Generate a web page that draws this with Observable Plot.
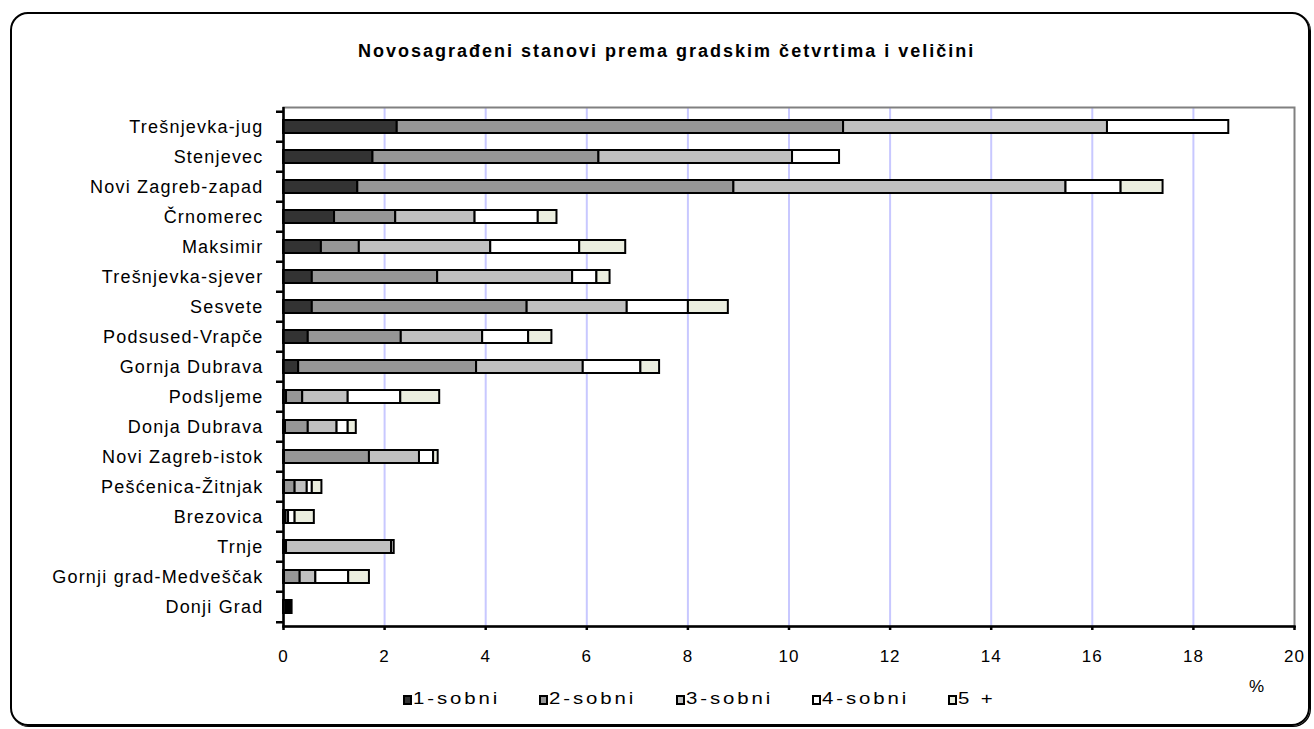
<!DOCTYPE html>
<html>
<head>
<meta charset="utf-8">
<script src="https://cdn.jsdelivr.net/npm/d3@7"></script>
<script src="https://cdn.jsdelivr.net/npm/@observablehq/plot@0.6"></script>
<style>
  html, body { margin: 0; padding: 0; background: #fff; }
  #wrap { position: relative; width: 1314px; height: 729px; overflow: hidden; font-family: "Liberation Sans", Arial, sans-serif; color: #000; }
  #frame { position: absolute; left: 10px; top: 12px; width: 1296px; height: 710px; border: 2px solid #000; border-radius: 18px; box-shadow: 1px 1px 0 #000; pointer-events: none; z-index: 2; }
  #title { position: absolute; left: 358px; top: 42px; font-size: 18px; line-height: 18px; font-weight: bold; letter-spacing: 2px; white-space: nowrap; z-index: 3; }
  #unit { position: absolute; left: 1249px; top: 678px; font-size: 17px; line-height: 17px; z-index: 3; }
  .leg { position: absolute; top: 690px; font-size: 17px; line-height: 17px; white-space: nowrap; z-index: 3; }
  .leg .txt { display: inline-block; transform: scaleX(1.2); transform-origin: 0 50%; letter-spacing: 2.4px; }
  .sw { display: inline-block; width: 9px; height: 10px; box-sizing: border-box; border: 2px solid #000; margin-right: 1px; vertical-align: -1px; }
  #chart svg g[aria-label="y-axis tick label"] text { letter-spacing: 1.2px; }
  #chart svg g[aria-label="x-axis tick label"] text { letter-spacing: 1px; }
  #chart { position: absolute; left: 0; top: 0; z-index: 1; }
</style>
</head>
<body>
<div id="wrap">
  <div id="chart"></div>
  <div id="frame"></div>
  <div id="title">Novosagrađeni stanovi prema gradskim četvrtima i veličini</div>
  <div id="unit">%</div>
  <div id="legend"></div>
</div>
<script>
// ---- data ----
const districts = ["Trešnjevka-jug","Stenjevec","Novi Zagreb-zapad","Črnomerec","Maksimir","Trešnjevka-sjever","Sesvete","Podsused-Vrapče","Gornja Dubrava","Podsljeme","Donja Dubrava","Novi Zagreb-istok","Pešćenica-Žitnjak","Brezovica","Trnje","Gornji grad-Medveščak","Donji Grad"];
const sizes = ["1-sobni","2-sobni","3-sobni","4-sobni","5 +"];
const colors = ["#333333","#969696","#c0c0c0","#ffffff","#ebeedf"];
const sobni1 = [2.25,1.77,1.47,1.01,0.75,0.57,0.57,0.49,0.30,0.06,0.04,0.02,0.02,0.02,0.02,0.02,0.06];
const sobni2 = [8.83,4.47,7.44,1.21,0.75,2.48,4.25,1.84,3.52,0.32,0.45,1.68,0.21,0.03,0.04,0.31,0.04];
const sobni3 = [5.22,3.83,6.57,1.57,2.60,2.67,1.98,1.61,2.11,0.90,0.57,0.99,0.24,0.05,2.08,0.31,0.03];
const sobni4 = [2.40,0.93,1.09,1.25,1.76,0.48,1.21,0.91,1.14,1.04,0.22,0.28,0.10,0.13,0.05,0.65,0.02];
const sobni5 = [0,0,0.83,0.37,0.91,0.26,0.79,0.46,0.37,0.77,0.16,0.09,0.19,0.38,0,0.41,0.02];
const xTicks = [0,2,4,6,8,10,12,14,16,18,20];
const gridTicks = [2,4,6,8,10,12,14,16,18];

const series = [sobni1, sobni2, sobni3, sobni4, sobni5];
const rows = [];
districts.forEach((d, i) => {
  sizes.forEach((s, j) => {
    const v = series[j][i];
    if (v > 0) rows.push({district: d, size: s, value: v});
  });
});

const W = 1314, H = 729, mt = 107, mb = 103, ml = 283, mr = 20;
const step = (H - mt - mb) / districts.length;

const chart = Plot.plot({
  width: W, height: H,
  marginTop: mt, marginBottom: mb, marginLeft: ml, marginRight: mr,
  style: {fontFamily: "'Liberation Sans', Arial, sans-serif", fontSize: "17px", color: "#000", background: "transparent"},
  x: {domain: [0, 20]},
  y: {domain: districts, paddingInner: 0.57, paddingOuter: 0.285},
  color: {domain: sizes, range: colors},
  marks: [
    Plot.gridX(gridTicks, {stroke: "#c8c8ff", strokeOpacity: 1, strokeWidth: 2}),
    Plot.frame({stroke: "#808080", strokeWidth: 2}),
    Plot.barX(rows, {x: "value", y: "district", fill: "size", stroke: "#000", strokeWidth: 2}),
    Plot.ruleX([0], {stroke: "#000", strokeWidth: 2.5}),
    Plot.frame({anchor: "bottom", stroke: "#000", strokeWidth: 2.5}),
    Plot.axisX(xTicks, {tickSize: 4, tickPadding: 19, strokeWidth: 2.5, label: null, fontSize: 17}),
    Plot.axisY({tickSize: 0, tickPadding: 20, label: null, fontSize: 18}),
    Plot.ruleY(districts, {y: d => d, x1: 0, x2: 0, insetLeft: -7, dy: -step / 2, stroke: "#000", strokeWidth: 2.5}),
    Plot.ruleY(districts.slice(-1), {y: d => d, x1: 0, x2: 0, insetLeft: -7, dy: step / 2, stroke: "#000", strokeWidth: 2.5})
  ]
});
document.getElementById("chart").appendChild(chart);

// legend
const legend = document.getElementById("legend");
sizes.forEach((s, i) => {
  const item = document.createElement("div");
  item.className = "leg";
  item.style.left = (403 + i * 136.25) + "px";
  const sw = document.createElement("span");
  sw.className = "sw";
  sw.style.background = colors[i];
  item.appendChild(sw);
  const t = document.createElement("span");
  t.className = "txt";
  t.textContent = s;
  item.appendChild(t);
  legend.appendChild(item);
});
</script>
</body>
</html>
